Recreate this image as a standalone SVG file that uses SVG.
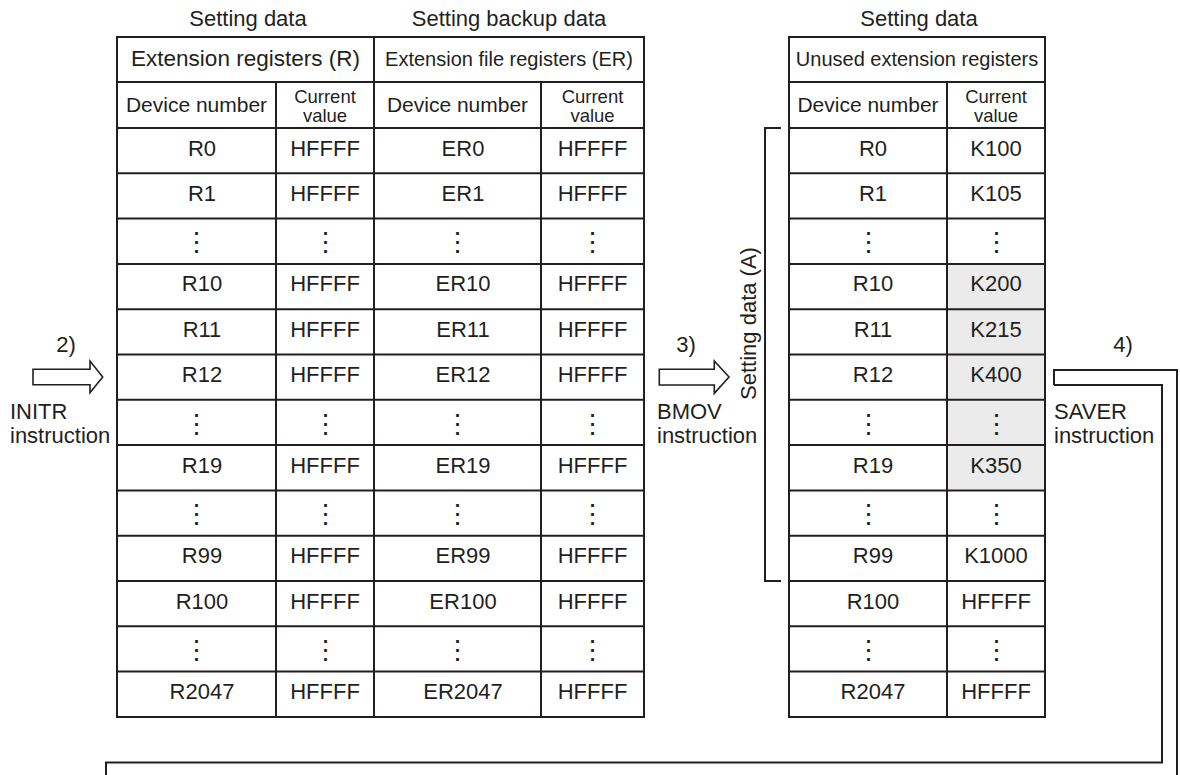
<svg xmlns="http://www.w3.org/2000/svg" width="1180" height="775" viewBox="0 0 1180 775">
<defs>
<style>
text{font-family:"Liberation Sans",Arial,sans-serif;fill:#231f20;}
.t{font-size:22px;}
.c{text-anchor:middle;}
.hd{font-size:20px;text-anchor:middle;}
.cv{font-size:18.5px;text-anchor:middle;}
.dots{font-family:"DejaVu Sans",sans-serif;font-size:27px;text-anchor:middle;}
.ln{fill:none;stroke:#231f20;stroke-width:2;}
.shade{fill:#ebebeb;}
.arrow{fill:#fff;stroke:#231f20;stroke-width:1.6;}
</style>
</defs>
<rect width="1180" height="775" fill="#fff"/>

<!-- titles -->
<g id="titles">
<text class="t c" x="248" y="26">Setting data</text>
<text class="t c" x="509" y="26">Setting backup data</text>
<text class="t c" x="919" y="26">Setting data</text>
</g>

<!-- left table (R and ER) -->
<g id="table-left">
<rect class="ln" x="117" y="37" width="527" height="680"/>
<line class="ln" x1="374" y1="37" x2="374" y2="717"/>
<line class="ln" x1="276" y1="82" x2="276" y2="717"/>
<line class="ln" x1="541" y1="82" x2="541" y2="717"/>
<line class="ln" x1="117" y1="82" x2="644" y2="82"/>
<line class="ln" x1="117" y1="128" x2="644" y2="128"/>
<line class="ln" x1="117" y1="173.3" x2="644" y2="173.3"/>
<line class="ln" x1="117" y1="218.6" x2="644" y2="218.6"/>
<line class="ln" x1="117" y1="263.9" x2="644" y2="263.9"/>
<line class="ln" x1="117" y1="309.2" x2="644" y2="309.2"/>
<line class="ln" x1="117" y1="354.5" x2="644" y2="354.5"/>
<line class="ln" x1="117" y1="399.8" x2="644" y2="399.8"/>
<line class="ln" x1="117" y1="445.1" x2="644" y2="445.1"/>
<line class="ln" x1="117" y1="490.4" x2="644" y2="490.4"/>
<line class="ln" x1="117" y1="535.7" x2="644" y2="535.7"/>
<line class="ln" x1="117" y1="581" x2="644" y2="581"/>
<line class="ln" x1="117" y1="626.3" x2="644" y2="626.3"/>
<line class="ln" x1="117" y1="671.6" x2="644" y2="671.6"/>
<text class="c" style="font-size:22.5px" x="245.5" y="66">Extension registers (R)</text>
<text class="hd" x="509" y="66">Extension file registers (ER)</text>
<text class="c" style="font-size:21px" x="196.5" y="112">Device number</text>
<text class="cv"><tspan x="325" y="103">Current</tspan><tspan x="325" y="121.5">value</tspan></text>
<text class="c" style="font-size:21px" x="457.5" y="112">Device number</text>
<text class="cv"><tspan x="592.5" y="103">Current</tspan><tspan x="592.5" y="121.5">value</tspan></text>

<g class="t c">
<text x="202" y="155.5">R0</text><text x="325" y="155.5">HFFFF</text><text x="463" y="155.5">ER0</text><text x="592.5" y="155.5">HFFFF</text>
<text x="202" y="200.8">R1</text><text x="325" y="200.8">HFFFF</text><text x="463" y="200.8">ER1</text><text x="592.5" y="200.8">HFFFF</text>
<text x="202" y="291.4">R10</text><text x="325" y="291.4">HFFFF</text><text x="463" y="291.4">ER10</text><text x="592.5" y="291.4">HFFFF</text>
<text x="202" y="336.7">R11</text><text x="325" y="336.7">HFFFF</text><text x="463" y="336.7">ER11</text><text x="592.5" y="336.7">HFFFF</text>
<text x="202" y="382">R12</text><text x="325" y="382">HFFFF</text><text x="463" y="382">ER12</text><text x="592.5" y="382">HFFFF</text>
<text x="202" y="472.6">R19</text><text x="325" y="472.6">HFFFF</text><text x="463" y="472.6">ER19</text><text x="592.5" y="472.6">HFFFF</text>
<text x="202" y="563.2">R99</text><text x="325" y="563.2">HFFFF</text><text x="463" y="563.2">ER99</text><text x="592.5" y="563.2">HFFFF</text>
<text x="202" y="608.5">R100</text><text x="325" y="608.5">HFFFF</text><text x="463" y="608.5">ER100</text><text x="592.5" y="608.5">HFFFF</text>
<text x="202" y="699.1">R2047</text><text x="325" y="699.1">HFFFF</text><text x="463" y="699.1">ER2047</text><text x="592.5" y="699.1">HFFFF</text>
</g>
<g class="dots">
<text x="196.5" y="251.3">⋮</text><text x="325" y="251.3">⋮</text><text x="457.5" y="251.3">⋮</text><text x="592.5" y="251.3">⋮</text>
<text x="196.5" y="432.5">⋮</text><text x="325" y="432.5">⋮</text><text x="457.5" y="432.5">⋮</text><text x="592.5" y="432.5">⋮</text>
<text x="196.5" y="523">⋮</text><text x="325" y="523">⋮</text><text x="457.5" y="523">⋮</text><text x="592.5" y="523">⋮</text>
<text x="196.5" y="659">⋮</text><text x="325" y="659">⋮</text><text x="457.5" y="659">⋮</text><text x="592.5" y="659">⋮</text>
</g>
</g>

<!-- right table -->
<g id="table-right">
<rect class="shade" x="947" y="263.9" width="98" height="226.5"/>
<rect class="ln" x="789" y="37" width="256" height="680"/>
<line class="ln" x1="947" y1="82" x2="947" y2="717"/>
<line class="ln" x1="789" y1="82" x2="1045" y2="82"/>
<line class="ln" x1="789" y1="128" x2="1045" y2="128"/>
<line class="ln" x1="789" y1="173.3" x2="1045" y2="173.3"/>
<line class="ln" x1="789" y1="218.6" x2="1045" y2="218.6"/>
<line class="ln" x1="789" y1="263.9" x2="1045" y2="263.9"/>
<line class="ln" x1="789" y1="309.2" x2="1045" y2="309.2"/>
<line class="ln" x1="789" y1="354.5" x2="1045" y2="354.5"/>
<line class="ln" x1="789" y1="399.8" x2="1045" y2="399.8"/>
<line class="ln" x1="789" y1="445.1" x2="1045" y2="445.1"/>
<line class="ln" x1="789" y1="490.4" x2="1045" y2="490.4"/>
<line class="ln" x1="789" y1="535.7" x2="1045" y2="535.7"/>
<line class="ln" x1="789" y1="581" x2="1045" y2="581"/>
<line class="ln" x1="789" y1="626.3" x2="1045" y2="626.3"/>
<line class="ln" x1="789" y1="671.6" x2="1045" y2="671.6"/>
<text class="hd" x="917" y="66">Unused extension registers</text>
<text class="c" style="font-size:21px" x="868" y="112">Device number</text>
<text class="cv"><tspan x="996" y="103">Current</tspan><tspan x="996" y="121.5">value</tspan></text>
<g class="t c">
<text x="873" y="155.5">R0</text><text x="996" y="155.5">K100</text>
<text x="873" y="200.8">R1</text><text x="996" y="200.8">K105</text>
<text x="873" y="291.4">R10</text><text x="996" y="291.4">K200</text>
<text x="873" y="336.7">R11</text><text x="996" y="336.7">K215</text>
<text x="873" y="382">R12</text><text x="996" y="382">K400</text>
<text x="873" y="472.6">R19</text><text x="996" y="472.6">K350</text>
<text x="873" y="563.2">R99</text><text x="996" y="563.2">K1000</text>
<text x="873" y="608.5">R100</text><text x="996" y="608.5">HFFFF</text>
<text x="873" y="699.1">R2047</text><text x="996" y="699.1">HFFFF</text>
</g>
<g class="dots">
<text x="868" y="251.3">⋮</text><text x="996" y="251.3">⋮</text>
<text x="868" y="432.5">⋮</text><text x="996" y="432.5">⋮</text>
<text x="868" y="523">⋮</text><text x="996" y="523">⋮</text>
<text x="868" y="659">⋮</text><text x="996" y="659">⋮</text>
</g>
</g>

<!-- bracket label -->
<g id="bracket-A">
<path class="ln" d="M781,128 H765 V581 H781"/>
<text class="t" text-anchor="middle" transform="translate(756,323.5) rotate(-90)">Setting data (A)</text>
</g>

<!-- step labels -->
<g id="label-2">
<text class="t c" x="66" y="352">2)</text>
<text class="t" x="10" y="419">INITR</text>
<text class="t" x="10" y="443">instruction</text>
</g>
<g id="label-3">
<text class="t c" x="686" y="352">3)</text>
<text class="t" x="657" y="419">BMOV</text>
<text class="t" x="657" y="443">instruction</text>
</g>
<g id="label-4">
<text class="t c" x="1123" y="352">4)</text>
<text class="t" x="1054" y="419">SAVER</text>
<text class="t" x="1054" y="443">instruction</text>
</g>

<!-- connectors -->
<g id="connectors">
<polygon class="arrow" points="33,369.3 90,369.3 90,361 102.7,377 90,392.7 90,384.7 33,384.7"/>
<polygon class="arrow" points="659.3,369.3 714.3,369.3 714.3,361 729,377 714.3,393.3 714.3,385 659.3,385"/>
<path class="ln" d="M1054,385 V370 H1177 V776"/>
<path class="ln" d="M1054,385 H1162 V762.5 H106 V776"/>
</g>
</svg>
